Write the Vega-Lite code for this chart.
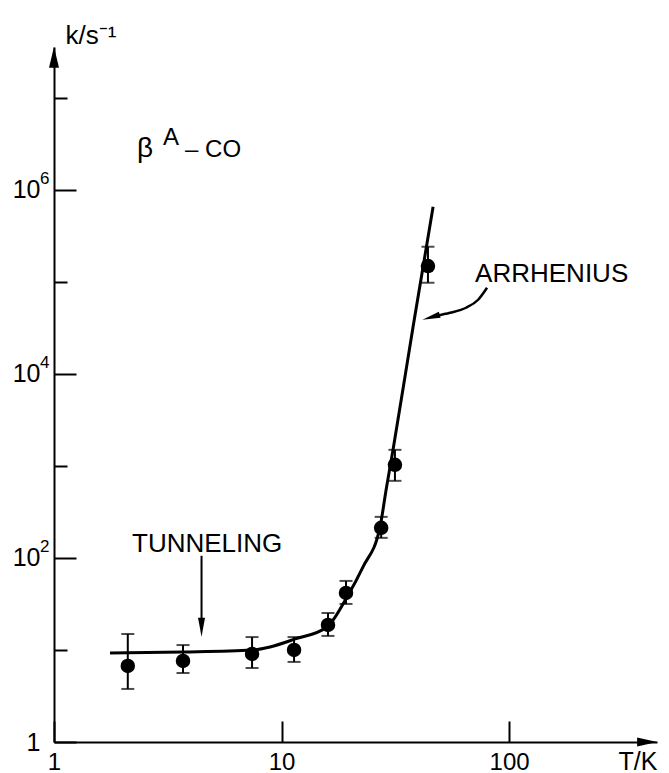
{
  "$schema": "https://vega.github.io/schema/vega-lite/v6.json",
  "width": 603,
  "height": 695,
  "autosize": {"type": "none"},
  "padding": {"left": 54, "top": 47, "right": 12, "bottom": 31},
  "background": "white",
  "config": {"view": {"stroke": null}, "font": "Liberation Sans"},
  "encoding": {
    "x": {
      "field": "T", "type": "quantitative",
      "scale": {"type": "log", "domain": [1, 446.7], "nice": false},
      "axis": {
        "values": [1, 10, 100],
        "labelExpr": "'' + datum.value",
        "grid": false,
        "domainColor": "black", "domainWidth": 2,
        "tickColor": "black", "tickWidth": 2,
        "tickSize": -21,
        "labelPadding": 29,
        "labelFont": "Liberation Sans", "labelFontSize": 24, "labelColor": "black",
        "labelOverlap": false, "labelFlush": false, "labelBound": false,
        "title": "T/K",
        "titleFont": "Liberation Sans", "titleFontSize": 25, "titleFontWeight": "normal", "titleColor": "black",
        "titleAlign": "right", "titleBaseline": "alphabetic", "titleX": 603, "titleY": 27
      }
    },
    "y": {
      "field": "k", "type": "quantitative",
      "scale": {"type": "log", "domain": [1, 35481339], "nice": false},
      "axis": {
        "values": [1, 10, 100, 1000, 10000, 100000, 1000000, 10000000],
        "labelExpr": "datum.value == 1 ? '1' : (datum.value == 100 || datum.value == 10000 || datum.value == 1000000) ? '10' : ''",
        "grid": false,
        "domainColor": "black", "domainWidth": 2,
        "tickColor": "black", "tickWidth": 2,
        "tickSize": {"condition": {"test": "datum.value == 1 || datum.value == 100 || datum.value == 10000 || datum.value == 1000000", "value": -22}, "value": -13},
        "labelPadding": 36,
        "labelFont": "Liberation Sans", "labelFontSize": 25, "labelColor": "black",
        "labelOverlap": false, "labelFlush": false, "labelBound": false,
        "title": "k/s⁻¹",
        "titleFont": "Liberation Sans", "titleFontSize": 26, "titleFontWeight": "normal", "titleColor": "black",
        "titleAngle": 0, "titleAlign": "left", "titleBaseline": "alphabetic", "titleX": 11, "titleY": -4
      }
    }
  },
  "layer": [
    {
      "data": {"values": [
        {"T": 1.763, "k": 9.28}, {"T": 3.69, "k": 9.51}, {"T": 7.42, "k": 10.0},
        {"T": 8.90, "k": 10.78}, {"T": 11.47, "k": 13.17}, {"T": 15.85, "k": 17.78},
        {"T": 19.41, "k": 37.7}, {"T": 22.81, "k": 79.8}, {"T": 27.1, "k": 217},
        {"T": 28.8, "k": 548}, {"T": 30.9, "k": 1493}, {"T": 37.85, "k": 32400},
        {"T": 46.35, "k": 653000}
      ]},
      "mark": {"type": "line", "color": "black", "strokeWidth": 3, "interpolate": "monotone"}
    },
    {
      "data": {"values": [
        {"T": 2.11, "k": 6.70, "lo": 3.77, "hi": 14.9},
        {"T": 3.69, "k": 7.59, "lo": 5.62, "hi": 11.3},
        {"T": 7.42, "k": 9.05, "lo": 6.37, "hi": 13.8},
        {"T": 11.35, "k": 10.0, "lo": 7.41, "hi": 13.8},
        {"T": 16.0, "k": 18.7, "lo": 14.2, "hi": 25.2},
        {"T": 19.2, "k": 41.6, "lo": 31.6, "hi": 56.2},
        {"T": 27.4, "k": 212, "lo": 165, "hi": 279},
        {"T": 31.5, "k": 1025, "lo": 687, "hi": 1492},
        {"T": 44.0, "k": 148000, "lo": 97500, "hi": 240000}
      ]},
      "layer": [
        {
          "mark": {"type": "rule", "color": "black", "strokeWidth": 2},
          "encoding": {"y": {"field": "lo", "type": "quantitative"}, "y2": {"field": "hi"}}
        },
        {
          "mark": {"type": "tick", "orient": "horizontal", "color": "black", "size": 13, "thickness": 2},
          "encoding": {"y": {"field": "lo", "type": "quantitative"}}
        },
        {
          "mark": {"type": "tick", "orient": "horizontal", "color": "black", "size": 13, "thickness": 2},
          "encoding": {"y": {"field": "hi", "type": "quantitative"}}
        },
        {
          "mark": {"type": "point", "filled": true, "shape": "circle", "color": "black", "size": 210, "opacity": 1}
        }
      ]
    },
    {
      "data": {"values": [{"T": 4.45, "k": 105.4}, {"T": 4.45, "k": 17.6}]},
      "mark": {"type": "line", "color": "black", "strokeWidth": 2}
    },
    {
      "data": {"values": [
        {"T": 47.77, "k": 42700}, {"T": 55.05, "k": 46030}, {"T": 64.7, "k": 52170},
        {"T": 73.1, "k": 63740}, {"T": 80.0, "k": 86050}
      ]},
      "mark": {"type": "line", "color": "black", "strokeWidth": 2.5, "interpolate": "monotone"}
    },
    {
      "data": {"values": [{"T": 4.45, "k": 17.6}]},
      "mark": {"type": "point", "filled": true, "color": "black", "opacity": 1, "size": 361, "shape": "M0,1L0.37,-1L-0.37,-1Z"}
    },
    {
      "data": {"values": [{"T": 45.4, "k": 41100}]},
      "mark": {"type": "point", "filled": true, "color": "black", "opacity": 1, "size": 324, "angle": 344, "shape": "M-1,0L1,0.35L1,-0.35Z"}
    },
    {
      "data": {"values": [{"T": 1, "k": 27540000}]},
      "mark": {"type": "point", "filled": true, "color": "black", "opacity": 1, "size": 441, "shape": "M0,-1L0.476,1L-0.476,1Z"}
    },
    {
      "data": {"values": [{"T": 404.3, "k": 1}]},
      "mark": {"type": "point", "filled": true, "color": "black", "opacity": 1, "size": 400, "shape": "M1,0L-1,0.45L-1,-0.45Z"}
    },
    {
      "data": {"values": [
        {"T": 1, "k": 100, "text": "2"},
        {"T": 1, "k": 10000, "text": "4"},
        {"T": 1, "k": 1000000, "text": "6"}
      ]},
      "mark": {"type": "text", "font": "Liberation Sans", "fontSize": 17, "color": "black", "baseline": "alphabetic", "align": "left", "dx": -14, "dy": -6},
      "encoding": {"text": {"field": "text"}}
    },
    {
      "data": {"values": [
        {"T": 2.203, "k": 116, "text": "TUNNELING"},
        {"T": 70.9, "k": 100000, "text": "ARRHENIUS"}
      ]},
      "mark": {"type": "text", "font": "Liberation Sans", "fontSize": 26, "color": "black", "baseline": "alphabetic", "align": "left"},
      "encoding": {"text": {"field": "text"}}
    },
    {
      "data": {"values": [
        {"T": 2.317, "k": 2285000, "text": "β"}
      ]},
      "mark": {"type": "text", "font": "Liberation Sans", "fontSize": 28, "color": "black", "baseline": "alphabetic", "align": "left"},
      "encoding": {"text": {"field": "text"}}
    },
    {
      "data": {"values": [
        {"T": 3.013, "k": 3080000, "text": "A"},
        {"T": 3.766, "k": 2285000, "text": "– CO"}
      ]},
      "mark": {"type": "text", "font": "Liberation Sans", "fontSize": 24, "color": "black", "baseline": "alphabetic", "align": "left"},
      "encoding": {"text": {"field": "text"}}
    }
  ]
}
